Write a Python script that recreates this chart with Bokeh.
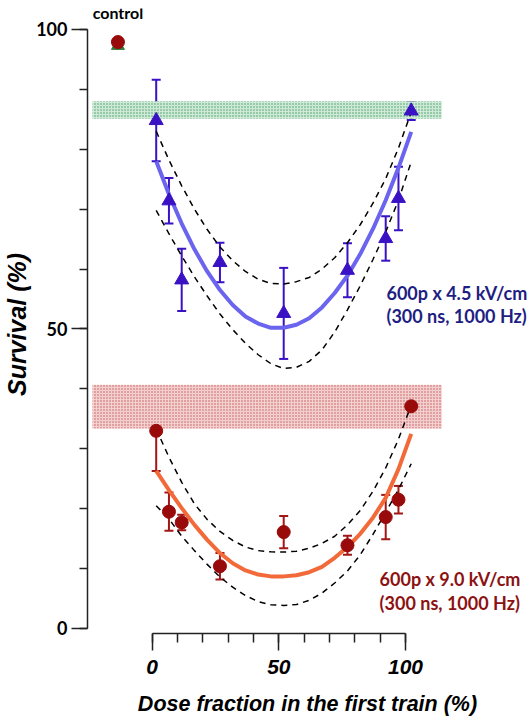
from bokeh.plotting import figure
from bokeh.models import (Range1d, LinearAxis, FixedTicker, Whisker, TeeHead,
                          ColumnDataSource)
from bokeh.core.properties import value
from bokeh.embed import file_html
from bokeh.resources import INLINE

# ---------------- data ----------------
dose = [0, 5, 10, 25, 50, 75, 90, 95, 100]

blue_mean = [84.8, 71.4, 58.2, 61.1, 52.6, 59.8, 65.1, 71.8, 86.4]
blue_err = [6.8, 3.8, 5.2, 3.3, 7.6, 4.5, 3.7, 5.3, 1.5]

red_mean = [33.0, 19.5, 17.7, 10.4, 16.1, 13.9, 18.6, 21.5, 37.1]
red_err = [6.7, 3.2, 1.3, 2.2, 2.7, 1.6, 3.7, 2.3, 3.2]

control_x = [-15]
control_blue = [97.3]
control_red = [97.9]

fit_x = [0, 5, 10, 15, 20, 25, 30, 35, 40, 45, 50, 55, 60, 65, 70, 75, 80, 85, 90, 95, 100]
blue_fit = [78.0, 72.5, 67.6, 63.3, 59.6, 56.5, 54.0, 52.1, 50.9, 50.2, 50.2,
            50.7, 51.8, 53.6, 56.0, 58.9, 62.5, 66.7, 71.5, 76.9, 82.9]
blue_hi = [83.0, 78.2, 73.9, 70.0, 66.6, 63.7, 61.4, 59.6, 58.3, 57.6, 57.5,
           57.9, 58.6, 60.0, 61.9, 64.4, 67.4, 71.0, 75.1, 80.2, 86.2]
blue_lo = [69.8, 65.9, 62.2, 58.7, 55.5, 52.5, 49.9, 47.6, 45.7, 44.2, 43.4,
           43.6, 44.6, 46.5, 49.5, 53.2, 57.2, 61.6, 66.2, 71.5, 77.9]
red_fit = [26.3, 23.1, 20.1, 17.3, 14.8, 12.6, 10.9, 9.7, 9.0, 8.7, 8.7,
           8.9, 9.4, 10.3, 11.8, 13.6, 15.8, 18.5, 21.8, 26.6, 32.5]
red_hi = [33.3, 28.6, 24.4, 20.8, 18.2, 16.2, 14.7, 13.6, 13.0, 12.8, 12.75,
          12.9, 13.4, 14.2, 15.4, 17.3, 19.7, 22.9, 26.8, 31.6, 37.3]
red_lo = [20.5, 18.3, 15.4, 13.0, 10.7, 8.6, 6.9, 5.5, 4.5, 3.95, 3.85,
          4.0, 4.7, 5.9, 7.6, 9.6, 12.3, 15.7, 19.4, 23.2, 27.5]

# reference bands (single-train levels)
band_green = (85.1, 88.0)
band_red = (33.4, 40.7)
band_x = (-25, 112)

y_ticks = [0, 50, 100]
y_minor = [0, 10, 20, 30, 40, 50, 60, 70, 80, 90, 100]
x_ticks = [0, 50, 100]
x_minor = [0, 10, 20, 30, 40, 50, 60, 70, 80, 90, 100]

blue_label = ["600p x 4.5 kV/cm", "(300 ns, 1000 Hz)"]
red_label = ["600p x 9.0 kV/cm", "(300 ns, 1000 Hz)"]

# ---------------- colours ----------------
BLUE = "#3a12c4"
BLUE_FIT = "#6a64ee"
RED = "#990a0a"
RED_BAR = "#a31616"
ORANGE = "#f26a3a"
GREEN = "#2e7d3a"

p = figure(frame_width=440, frame_height=625,
           x_range=Range1d(-26.94, 145.6), y_range=Range1d(-0.835, 103.5),
           x_axis_type=None, y_axis_type=None,
           toolbar_location=None, output_backend="svg",
           min_border_left=85, min_border_right=0, min_border_top=8,
           min_border_bottom=0)
p.outline_line_color = None
p.background_fill_color = "white"
p.border_fill_color = "white"

# axes
p.extra_x_ranges = {"axis": Range1d(-25.54, 148.16)}
xaxis = LinearAxis(x_range_name="axis", bounds=(0, 100),
                   ticker=FixedTicker(ticks=x_ticks, minor_ticks=x_minor))
xaxis.axis_line_width = 1.5
xaxis.axis_line_color = "#222222"
xaxis.major_tick_line_color = "#222222"
xaxis.minor_tick_line_color = "#222222"
xaxis.major_tick_line_width = 1.5
xaxis.minor_tick_line_width = 1.5
xaxis.major_tick_in = 0
xaxis.major_tick_out = 17
xaxis.minor_tick_in = 0
xaxis.minor_tick_out = 9
xaxis.major_label_text_font = "Liberation Sans"
xaxis.major_label_text_font_style = "bold italic"
xaxis.major_label_text_font_size = "21px"
xaxis.major_label_text_color = "black"
xaxis.major_label_standoff = 9
xaxis.axis_label = "Dose fraction in the first train (%)"
xaxis.axis_label_text_font = "Liberation Sans"
xaxis.axis_label_text_font_style = "bold italic"
xaxis.axis_label_text_font_size = "21.5px"
xaxis.axis_label_text_color = "black"
xaxis.axis_label_standoff = 15
p.add_layout(xaxis, "below")

yaxis = LinearAxis(bounds=(0, 100),
                   ticker=FixedTicker(ticks=y_ticks, minor_ticks=y_minor))
yaxis.axis_line_width = 1.5
yaxis.axis_line_color = "#222222"
yaxis.major_tick_line_color = "#222222"
yaxis.minor_tick_line_color = "#222222"
yaxis.major_tick_line_width = 1.5
yaxis.minor_tick_line_width = 1.5
yaxis.major_tick_in = 0
yaxis.major_tick_out = 16
yaxis.minor_tick_in = 0
yaxis.minor_tick_out = 8
yaxis.major_label_text_font = "Lato"
yaxis.major_label_text_font_style = "bold"
yaxis.major_label_text_font_size = "18px"
yaxis.major_label_text_color = "black"
yaxis.major_label_standoff = 4
yaxis.axis_label = "Survival  (%)"
yaxis.axis_label_text_font = "Liberation Sans"
yaxis.axis_label_text_font_style = "bold italic"
yaxis.axis_label_text_font_size = "25px"
yaxis.axis_label_text_color = "black"
yaxis.axis_label_standoff = 2
p.add_layout(yaxis, "left")

# bands
p.quad(left=[band_x[0]], right=[band_x[1]], bottom=[band_green[0]], top=[band_green[1]],
       fill_color="#cfe9d7", line_color=None,
       hatch_pattern="dot", hatch_color="#3f9d62", hatch_scale=3, hatch_weight=1)
p.quad(left=[band_x[0]], right=[band_x[1]], bottom=[band_red[0]], top=[band_red[1]],
       fill_color="#f3d0d0", line_color=None,
       hatch_pattern="dot", hatch_color="#c65454", hatch_scale=3, hatch_weight=1)

# fits and confidence curves
p.line(fit_x, blue_fit, line_color=BLUE_FIT, line_width=4)
p.line(fit_x, blue_hi, line_color="black", line_width=1.5, line_dash="6 5")
p.line(fit_x, blue_lo, line_color="black", line_width=1.5, line_dash="6 5")
p.line(fit_x, red_fit, line_color=ORANGE, line_width=4)
p.line(fit_x, red_hi, line_color="black", line_width=1.5, line_dash="6 5")
p.line(fit_x, red_lo, line_color="black", line_width=1.5, line_dash="6 5")

# error bars
bsrc = ColumnDataSource(dict(x=dose, y=blue_mean,
                             up=[m + e for m, e in zip(blue_mean, blue_err)],
                             lo=[m - e for m, e in zip(blue_mean, blue_err)]))
rsrc = ColumnDataSource(dict(x=dose, y=red_mean,
                             up=[m + e for m, e in zip(red_mean, red_err)],
                             lo=[m - e for m, e in zip(red_mean, red_err)]))
for src, col in ((bsrc, BLUE), (rsrc, RED_BAR)):
    w = Whisker(source=src, base="x", upper="up", lower="lo",
                line_color=col, line_width=2,
                upper_head=TeeHead(size=9, line_color=col, line_width=2),
                lower_head=TeeHead(size=9, line_color=col, line_width=2))
    p.add_layout(w)

p.scatter("x", "y", source=bsrc, marker="triangle", size=14,
          fill_color=BLUE, line_color=BLUE)
p.scatter("x", "y", source=rsrc, marker="circle", size=13,
          fill_color=RED, line_color=RED)

# control
p.scatter(control_x, control_blue, marker="triangle", size=13,
          fill_color=GREEN, line_color=GREEN)
p.scatter(control_x, control_red, marker="circle", size=13,
          fill_color=RED, line_color=RED)
p.text(x=control_x, y=[102.75], text=["control"], text_font=value("Lato"),
       text_font_style="bold", text_font_size="16px", text_color="black",
       text_align="center", text_baseline="middle")

# series labels
p.text(x=[90.3, 90.3], y=[56.0, 52.2], text=blue_label, text_font=value("Lato"),
       text_font_style="bold", text_font_size="18px", text_color="#1e1e82",
       text_align="left", text_baseline="middle")
p.text(x=[87.6, 87.6], y=[8.2, 4.3], text=red_label, text_font=value("Lato"),
       text_font_style="bold", text_font_size="18px", text_color="#8c1212",
       text_align="left", text_baseline="middle")

open("out.html", "w").write(file_html(p, INLINE))
